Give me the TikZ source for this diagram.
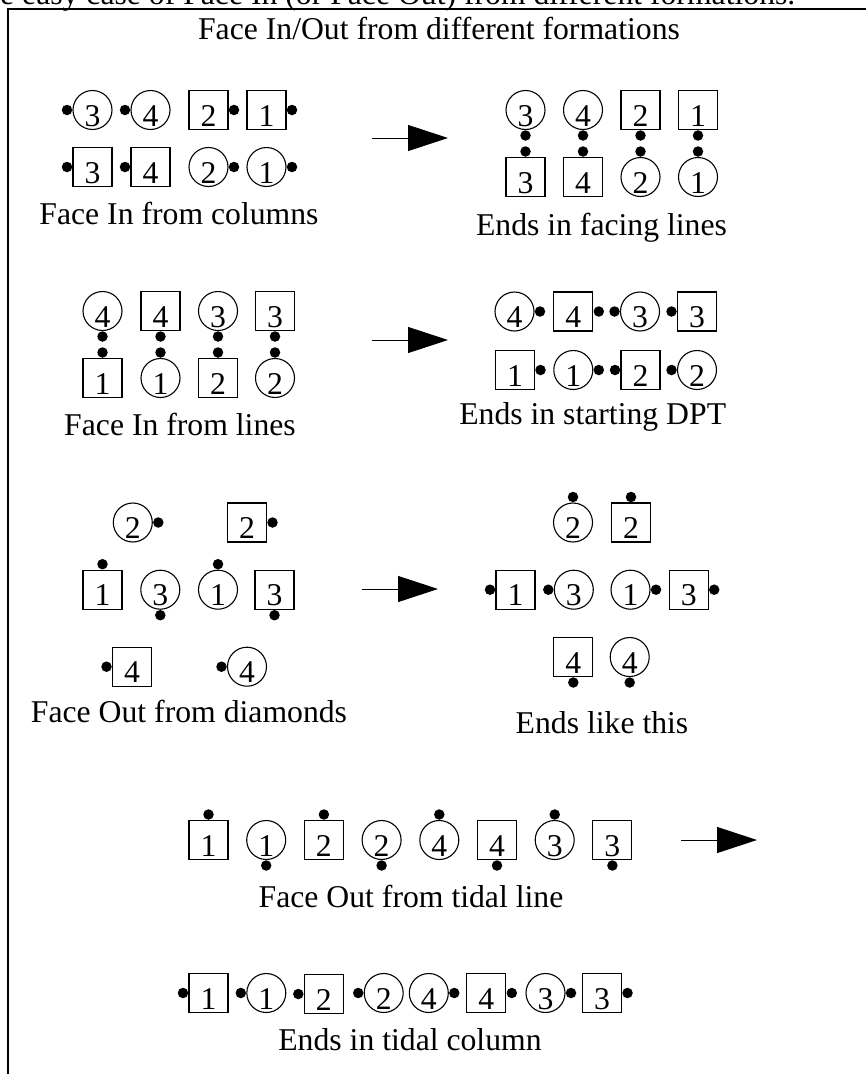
\documentclass[tikz,border=0pt]{standalone}
\usepackage{fontspec}
\setmainfont{Liberation Serif}
\usetikzlibrary{arrows.meta}

% one dancer: a square (boy) or circle (girl) with a dot on the side it faces
% #1 name, #2 shape style, #3 x, #4 y, #5 couple number, #6 facing side
\newcommand\dancer[6]{%
  \node[#2] (#1) at (#3,#4) {#5};
  \node[nose, nose at #6] (#1-nose) at (#1.#6) {};}

\begin{document}
\begin{tikzpicture}[x=1pt, y=-1pt,
  every node/.style={font=\fontsize{31.7}{38}\selectfont},
  figure/.style={draw, line width=1.1pt, minimum size=39pt, inner sep=0pt,
    text height=32pt, text depth=0pt},
  sqd/.style={figure, rectangle},
  cid/.style={figure, circle},
  nose/.style={circle, fill=black, draw=none, minimum size=10.5pt, inner sep=0pt},
  nose at north/.style={anchor=south},
  nose at south/.style={anchor=north},
  nose at east/.style={anchor=west},
  nose at west/.style={anchor=east},
  caption/.style={anchor=base, inner sep=0pt},
  move/.style={line width=1pt, -{Triangle[length=40pt, width=26pt]}},
  frame/.style={line width=2pt}]

\useasboundingbox (0,0) rectangle (866,1074);

% page frame and headings
\coordinate (frame-bl) at (8,1080);
\coordinate (frame-tl) at (8,9);
\coordinate (frame-tr) at (872,9);
\draw[frame] (frame-bl) -- (frame-tl) -- (frame-tr);
\node[anchor=base west, inner sep=0pt] (intro) at (0,4.5)
  {e easy case of Face In (or Face Out) from different formations.};
\node[caption] (title) at (439,39.5) {Face In/Out from different formations};

% ---- Face In from columns
\dancer{a-c3}{cid}{92.5}{110}{3}{west}
\dancer{a-c4}{cid}{150.5}{110}{4}{west}
\dancer{a-s2}{sqd}{208.5}{110}{2}{east}
\dancer{a-s1}{sqd}{266.5}{110}{1}{east}
\dancer{a-s3}{sqd}{92.5}{167}{3}{west}
\dancer{a-s4}{sqd}{150.5}{167}{4}{west}
\dancer{a-c2}{cid}{208.5}{167}{2}{east}
\dancer{a-c1}{cid}{266.5}{167}{1}{east}
\node[caption] (cap-a) at (179,224) {Face In from columns};

\coordinate (mv-a-from) at (372,138);
\coordinate (mv-a-to) at (448,138);
\draw[move] (mv-a-from) -- (mv-a-to);

\dancer{b-c3}{cid}{525.5}{110}{3}{south}
\dancer{b-c4}{cid}{583}{110}{4}{south}
\dancer{b-s2}{sqd}{640.5}{110}{2}{south}
\dancer{b-s1}{sqd}{698}{110}{1}{south}
\dancer{b-s3}{sqd}{525.5}{177}{3}{north}
\dancer{b-s4}{sqd}{583}{177}{4}{north}
\dancer{b-c2}{cid}{640.5}{177}{2}{north}
\dancer{b-c1}{cid}{698}{177}{1}{north}
\node[caption] (cap-b) at (601.5,235) {Ends in facing lines};

% ---- Face In from lines
\dancer{c-c4}{cid}{102.5}{311}{4}{south}
\dancer{c-s4}{sqd}{160.5}{311}{4}{south}
\dancer{c-c3}{cid}{218}{311}{3}{south}
\dancer{c-s3}{sqd}{275}{311}{3}{south}
\dancer{c-s1}{sqd}{102.5}{378}{1}{north}
\dancer{c-c1}{cid}{160.5}{378}{1}{north}
\dancer{c-s2}{sqd}{218}{378}{2}{north}
\dancer{c-c2}{cid}{275}{378}{2}{north}
\node[caption] (cap-c) at (180,435) {Face In from lines};

\coordinate (mv-c-from) at (372,340);
\coordinate (mv-c-to) at (448,340);
\draw[move] (mv-c-from) -- (mv-c-to);

\dancer{d-c4}{cid}{514.5}{311.5}{4}{east}
\dancer{d-s4}{sqd}{573.3}{311.5}{4}{east}
\dancer{d-c3}{cid}{640}{311.5}{3}{west}
\dancer{d-s3}{sqd}{697}{311.5}{3}{west}
\dancer{d-s1}{sqd}{515}{370}{1}{east}
\dancer{d-c1}{cid}{573.3}{370}{1}{east}
\dancer{d-s2}{sqd}{640.5}{370}{2}{west}
\dancer{d-c2}{cid}{697}{370}{2}{west}
\node[caption] (cap-d) at (592.7,424.5) {Ends in starting DPT};

% ---- Face Out from diamonds
\dancer{e-c2}{cid}{132.8}{522.5}{2}{east}
\dancer{e-s2}{sqd}{247}{522.5}{2}{east}
\dancer{e-s1}{sqd}{102.5}{589.7}{1}{north}
\dancer{e-c3}{cid}{160.3}{589.7}{3}{south}
\dancer{e-c1}{cid}{218}{589.7}{1}{north}
\dancer{e-s3}{sqd}{274.5}{589.7}{3}{south}
\dancer{e-s4}{sqd}{132}{666.7}{4}{west}
\dancer{e-c4}{cid}{247}{666.7}{4}{west}
\node[caption] (cap-e) at (189,722) {Face Out from diamonds};

\coordinate (mv-e-from) at (362,589);
\coordinate (mv-e-to) at (438,589);
\draw[move] (mv-e-from) -- (mv-e-to);

\dancer{f-c2}{cid}{573}{522.5}{2}{north}
\dancer{f-s2}{sqd}{631}{522.5}{2}{north}
\dancer{f-s1}{sqd}{515.5}{589.7}{1}{west}
\dancer{f-c3}{cid}{573.8}{589.7}{3}{west}
\dancer{f-c1}{cid}{630.5}{589.7}{1}{east}
\dancer{f-s3}{sqd}{688.7}{589.7}{3}{east}
\dancer{f-s4}{sqd}{573.3}{657}{4}{south}
\dancer{f-c4}{cid}{629.7}{657}{4}{south}
\node[caption] (cap-f) at (602,733) {Ends like this};

% ---- Face Out from tidal line
\dancer{g-s1}{sqd}{208.5}{840}{1}{north}
\dancer{g-c1}{cid}{266.2}{840}{1}{south}
\dancer{g-s2}{sqd}{323.9}{840}{2}{north}
\dancer{g-c2}{cid}{381.6}{840}{2}{south}
\dancer{g-c4}{cid}{439.3}{840}{4}{north}
\dancer{g-s4}{sqd}{497}{840}{4}{south}
\dancer{g-c3}{cid}{554.7}{840}{3}{north}
\dancer{g-s3}{sqd}{612.4}{840}{3}{south}
\node[caption] (cap-g) at (411,907) {Face Out from tidal line};

\coordinate (mv-g-from) at (681,840);
\coordinate (mv-g-to) at (757,840);
\draw[move] (mv-g-from) -- (mv-g-to);

\dancer{h-s1}{sqd}{208.5}{993}{1}{west}
\dancer{h-c1}{cid}{266.3}{993}{1}{west}
\dancer{h-s2}{sqd}{323.8}{994}{2}{west}
\dancer{h-c2}{cid}{383.7}{993}{2}{west}
\dancer{h-c4}{cid}{428.8}{993}{4}{east}
\dancer{h-s4}{sqd}{486.3}{993}{4}{east}
\dancer{h-c3}{cid}{545.5}{993}{3}{east}
\dancer{h-s3}{sqd}{602}{993}{3}{east}
\node[caption] (cap-h) at (410,1050.5) {Ends in tidal column};

\end{tikzpicture}
\end{document}
